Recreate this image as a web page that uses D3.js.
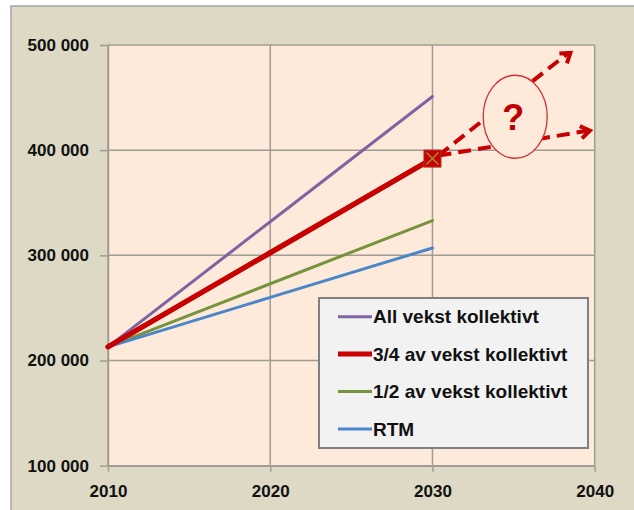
<!DOCTYPE html>
<html><head><meta charset="utf-8">
<script src="https://cdn.jsdelivr.net/npm/d3@7"></script>
<style>
html,body{margin:0;padding:0;background:#fff;}
svg{display:block;font-family:"Liberation Sans",Arial,sans-serif;}
</style></head>
<body>
<svg id="c" width="634" height="510"></svg>
<script>
// ---- data ----
const years = [2010, 2020, 2030];
const allVekst = [213000, 332000, 451000];
const treFjerdedel = [213000, 302500, 392000];
const halvpart = [213000, 273000, 333000];
const rtm = [213000, 260000, 307000];
const seriesNames = ["All vekst kollektivt", "3/4 av vekst kollektivt", "1/2 av vekst kollektivt", "RTM"];
const yTicks = [100000, 200000, 300000, 400000, 500000];
const xTicks = [2010, 2020, 2030, 2040];
// annotation (data coordinates)
const markerPoint = [2030, 392000];
const arrowEnds = [[2038.5, 492500], [2039.7, 418500]];
const questionCenter = [2035.1, 431800];

// ---- styles ----
const colors = ["#8064A2", "#C80000", "#77933C", "#4A86C8"];
const widths = [3, 5, 3, 3];
const seriesVals = [allVekst, treFjerdedel, halvpart, rtm];

const svg = d3.select("#c");
const L = 108, R = 594.7, T = 45, B = 465.7;
const x = d3.scaleLinear().domain([2010, 2040]).range([L, R]);
const y = d3.scaleLinear().domain([100000, 500000]).range([B, T]);

// outer frame
svg.append("rect").attr("x", 11).attr("y", 6).attr("width", 640).attr("height", 520)
  .attr("fill", "#DDD9C4").attr("stroke", "#A5A5A5").attr("stroke-width", 1.5);
// plot area
svg.append("rect").attr("x", L).attr("y", T).attr("width", R - L).attr("height", B - T)
  .attr("fill", "#FDEADA");

// gridlines
const grid = svg.append("g").attr("stroke", "#A09C94").attr("stroke-width", 1.5);
yTicks.forEach(v => grid.append("line").attr("x1", L).attr("x2", R).attr("y1", y(v)).attr("y2", y(v)));
xTicks.forEach(v => grid.append("line").attr("x1", x(v)).attr("x2", x(v)).attr("y1", T).attr("y2", B));

const loc = d3.formatLocale({decimal: ",", thousands: " ", grouping: [3], currency: ["", ""]});
const fmt = loc.format(",");

const yAxis = svg.append("g").attr("transform", `translate(${L},0)`)
  .call(d3.axisLeft(y).tickValues(yTicks).tickFormat(fmt).tickSize(8).tickPadding(11).tickSizeOuter(0));
const xAxis = svg.append("g").attr("transform", `translate(0,${B})`)
  .call(d3.axisBottom(x).tickValues(xTicks).tickFormat(d3.format("d")).tickSize(6).tickPadding(13).tickSizeOuter(0));
[yAxis, xAxis].forEach(a => {
  a.selectAll(".domain").attr("stroke", "#A09C94").attr("stroke-width", 1.5);
  a.selectAll(".tick line").attr("stroke", "#A09C94").attr("stroke-width", 1.5);
  a.selectAll("text").attr("fill", "#111").attr("font-size", 17).attr("font-weight", "bold")
    .attr("font-family", "'Liberation Sans', Arial, sans-serif");
});

// series lines
const line = d3.line().x((d, i) => x(years[i])).y(d => y(d));
seriesVals.forEach((vals, i) => {
  svg.append("path").datum(vals).attr("d", line).attr("fill", "none")
    .attr("stroke", colors[i]).attr("stroke-width", widths[i]).attr("stroke-linecap", "round");
});
// redraw red on top
svg.append("path").datum(treFjerdedel).attr("d", line).attr("fill", "none")
  .attr("stroke", colors[1]).attr("stroke-width", widths[1]).attr("stroke-linecap", "round");

// annotation arrows
const mx = x(markerPoint[0]), my = y(markerPoint[1]);
const ann = svg.append("g");
arrowEnds.forEach(e => {
  const ex = x(e[0]), ey = y(e[1]);
  ann.append("line").attr("x1", mx + 6).attr("y1", my - 3).attr("x2", ex - 2).attr("y2", ey)
    .attr("stroke", "#C80000").attr("stroke-width", 4).attr("stroke-dasharray", "13,7");
  const ang = Math.atan2(ey - my, ex - mx);
  const hl = 11, ha = 0.6;
  const p1 = [ex - hl * Math.cos(ang - ha), ey - hl * Math.sin(ang - ha)];
  const p2 = [ex - hl * Math.cos(ang + ha), ey - hl * Math.sin(ang + ha)];
  ann.append("path").attr("d", `M${p1}L${ex},${ey}L${p2}`).attr("fill", "none")
    .attr("stroke", "#C80000").attr("stroke-width", 4).attr("stroke-linejoin", "miter");
});
// ellipse with question mark
const qx = x(questionCenter[0]), qy = y(questionCenter[1]);
ann.append("ellipse").attr("cx", qx).attr("cy", qy).attr("rx", 32).attr("ry", 41.5)
  .attr("fill", "#FDEADA").attr("stroke", "#D03030").attr("stroke-width", 1.3);
ann.append("text").attr("x", qx - 2).attr("y", qy + 13).attr("text-anchor", "middle")
  .attr("font-size", 36).attr("font-weight", "bold").attr("fill", "#C00000")
  .attr("font-family", "'Liberation Sans', Arial, sans-serif").text("?");

// marker
const ms = 17;
ann.append("rect").attr("x", mx - ms / 2).attr("y", my - ms / 2).attr("width", ms).attr("height", ms)
  .attr("fill", "#C80000").attr("stroke", "#B03020").attr("stroke-width", 1);
ann.append("path").attr("d", `M${mx - 6},${my - 6}L${mx + 6},${my + 6}M${mx + 6},${my - 6}L${mx - 6},${my + 6}`)
  .attr("stroke", "#A08A40").attr("stroke-width", 1.5);

// legend
const lg = svg.append("g");
lg.append("rect").attr("x", 319).attr("y", 298).attr("width", 269).attr("height", 150)
  .attr("fill", "#F2F2F2").attr("stroke", "#808080").attr("stroke-width", 2);
seriesNames.forEach((n, i) => {
  const yy = 316.7 + i * 37.4;
  lg.append("line").attr("x1", 338).attr("x2", 372).attr("y1", yy).attr("y2", yy)
    .attr("stroke", colors[i]).attr("stroke-width", widths[i]);
  lg.append("text").attr("x", 373).attr("y", yy).attr("dy", "0.35em")
    .attr("font-size", 19).attr("font-weight", "bold").attr("fill", "#111").text(n);
});
</script>
</body></html>
